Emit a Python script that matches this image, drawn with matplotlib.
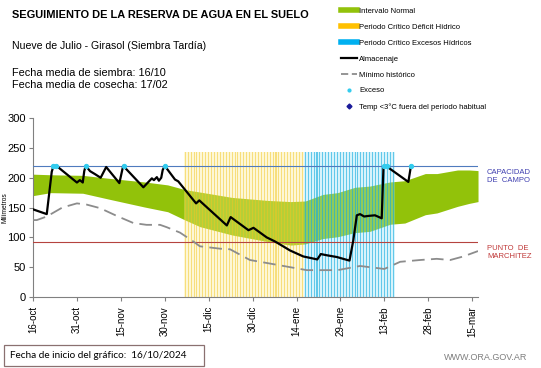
import numpy as np
import matplotlib.pyplot as plt
from matplotlib.lines import Line2D
from matplotlib.patches import Rectangle

plt.rcParams['font.family'] = ['Liberation Sans', 'DejaVu Sans']

# days counted from 16/10/2024
tick_days = [0, 15, 30, 45, 60, 75, 90, 105, 120, 135, 150]
tick_labels = ['16-oct', '31-oct', '15-nov', '30-nov', '15-dic', '30-dic',
               '14-ene', '29-ene', '13-feb', '28-feb', '15-mar']

# normal interval (upper / lower)
band_days = [0, 6, 17, 26, 38, 46, 52, 57, 68, 80, 88, 93, 99, 104, 110, 115,
             122, 127, 134, 138, 145, 149, 152]
band_top = [206, 205, 204, 199, 193, 188, 180, 176, 167, 162, 160, 161, 172, 175,
            184, 186, 193, 195, 207, 207, 213, 213, 212]
band_bot = [170, 175, 174, 164, 151, 143, 129, 118, 104, 93, 87, 89, 98, 101,
            108, 110, 122, 124, 138, 141, 152, 157, 160]

# almacenaje
alm_days = [0, 4.7, 6.4, 7, 8, 15, 16, 17, 17.5, 18, 19.5, 21.2, 23.1, 25, 29.5,
            30.8, 37.7, 40.6, 41.3, 42.3, 43, 43.8, 44.3, 45, 48.5, 49.6, 55.7,
            56.8, 66.2, 67.5, 73.6, 75.3, 79.8, 82.7, 87.8, 92.3, 97.1, 98.3,
            100.3, 103.8, 108.1, 109.4, 110.6, 111.7, 113.1, 114.6, 116.8, 119.1,
            119.7, 120.5, 128.2, 129.1]
alm_vals = [147, 139, 210, 220, 220, 192, 196, 192, 211, 220, 211, 206, 200, 218,
            191, 220, 184, 199, 196, 201, 195, 200, 213, 220, 197, 194, 157,
            162, 120, 134, 112, 116, 100, 93, 78, 68, 63, 72,
            70, 67, 61, 95, 137, 139, 135, 136, 137, 132,
            218, 220, 193, 220]

# minimo historico
min_days = [0, 1.3, 4.7, 10, 15, 18.3, 22.9, 28.6, 34.3, 38.8, 43.4, 45.7, 50.2,
            54.8, 57, 63.9, 67.3, 74.1, 81, 87.8, 93.5, 104, 111.7, 120, 125.4,
            132.2, 137.9, 142.5, 147, 152]
min_vals = [129, 129, 135, 150, 157, 155, 149, 136, 124, 121, 121, 117, 108,
            93, 85, 81, 80, 62, 56, 50, 45, 45, 52, 47, 59, 62, 64, 62, 68, 77]

exceso_days = [7, 8, 18, 31, 45, 120, 121, 129]
exceso_vals = [220, 220, 220, 220, 220, 220, 220, 220]

deficit_days = np.arange(52, 93)
excesos_days = np.arange(93, 124)
period_height = 244

capacidad = 220
marchitez = 92

fig = plt.figure(figsize=(5.41, 3.68), dpi=100)
ax = fig.add_axes([0.061, 0.193, 0.8226, 0.486])

ax.fill_between(band_days, band_bot, band_top, color='#92C20A', lw=0, zorder=1)
# light background of each daily bar, then the thin darker stripe
ax.bar(deficit_days, period_height, width=1.0, color='#FCE98A', alpha=0.35,
       lw=0, zorder=2)
ax.bar(deficit_days, period_height, width=0.35, color='#F2C623', alpha=0.5,
       lw=0, zorder=2)
ax.bar(excesos_days, period_height, width=1.0, color='#8FDDF5', alpha=0.35,
       lw=0, zorder=2)
ax.bar(excesos_days, period_height, width=0.35, color='#15ACDF', alpha=0.6,
       lw=0, zorder=2)
ax.axhline(capacidad, color='#4F7BBE', lw=0.8, zorder=3)
ax.axhline(marchitez, color='#B5433F', lw=0.8, zorder=3)
ax.plot(min_days, min_vals, color='#8C8C8C', lw=1.3, ls=(0, (7, 3.5)), zorder=4)
ax.plot(alm_days, alm_vals, color='black', lw=1.6, zorder=5)
ax.scatter(exceso_days, exceso_vals, s=8, color='#33CCEE', zorder=6)

ax.set_xlim(0, 152)
ax.set_ylim(0, 300)
ax.set_yticks(range(0, 301, 50))
ax.set_xticks(tick_days)
ax.set_xticklabels(tick_labels, rotation=90, fontsize=7)
ax.tick_params(axis='y', labelsize=8, length=3, pad=2, color='#808080')
ax.tick_params(axis='x', length=3, color='#808080')
for s in ['top', 'right']:
    ax.spines[s].set_visible(False)
for s in ['left', 'bottom']:
    ax.spines[s].set_color('#808080')
fig.text(5, 368 - 208, 'Milímetros', transform=None, fontsize=4.8, rotation=90,
         ha='center', va='center')

fig.text(487, 368 - 177, 'CAPACIDAD\nDE  CAMPO', transform=None, fontsize=5.5,
         color='#3F3FB0', va='center', linespacing=1.2)
fig.text(487, 368 - 252, 'PUNTO  DE\nMARCHITEZ', transform=None, fontsize=5.5,
         color='#C03838', va='center', linespacing=1.2)

# header texts
fig.text(12, 368 - 15, 'SEGUIMIENTO DE LA RESERVA DE AGUA EN EL SUELO',
         transform=None, fontsize=7.9, fontweight='bold', va='center')
fig.text(12, 368 - 46, 'Nueve de Julio - Girasol (Siembra Tardía)',
         transform=None, fontsize=7.6, va='center')
fig.text(12, 368 - 73, 'Fecha media de siembra: 16/10', transform=None,
         fontsize=7.8, va='center')
fig.text(12, 368 - 85, 'Fecha media de cosecha: 17/02', transform=None,
         fontsize=7.8, va='center')

handles = [
    Line2D([], [], color='#92C20A', lw=4),
    Line2D([], [], color='#FFC000', lw=4),
    Line2D([], [], color='#00B0F0', lw=4),
    Line2D([], [], color='black', lw=1.6),
    Line2D([], [], color='#8C8C8C', lw=1.3, ls=(0, (4, 2))),
    Line2D([], [], color='#33CCEE', marker='o', ms=2, ls='none'),
    Line2D([], [], color='#1A1A99', marker='D', ms=2.5, ls='none'),
]
labels = ['Intervalo Normal', 'Periodo Crítico Déficit Hídrico',
          'Periodo Crítico Excesos Hídricos', 'Almacenaje', 'Mínimo histórico',
          'Exceso', 'Temp <3°C fuera del período habitual']
fig.legend(handles, labels, loc='upper left', bbox_to_anchor=(333 / 541, 1.0),
           frameon=False, fontsize=5.5, handlelength=2.2, handletextpad=0.2,
           labelspacing=1.12, borderaxespad=0.6)

fig.add_artist(Rectangle((4 / 541, 2 / 368), 200 / 541, 21 / 368,
                         transform=fig.transFigure, fc='white', ec='#8A7070',
                         lw=0.9))
fig.text(10, 368 - 355, 'Fecha de inicio del gráfico:  16/10/2024',
         transform=None, fontsize=7.2, family=['Lato', 'DejaVu Sans'],
         va='center')
fig.text(527, 368 - 357, 'WWW.ORA.GOV.AR', transform=None, fontsize=6.5,
         color='#7F7F7F', ha='right', va='center')

fig.savefig('out.png', dpi=100)
